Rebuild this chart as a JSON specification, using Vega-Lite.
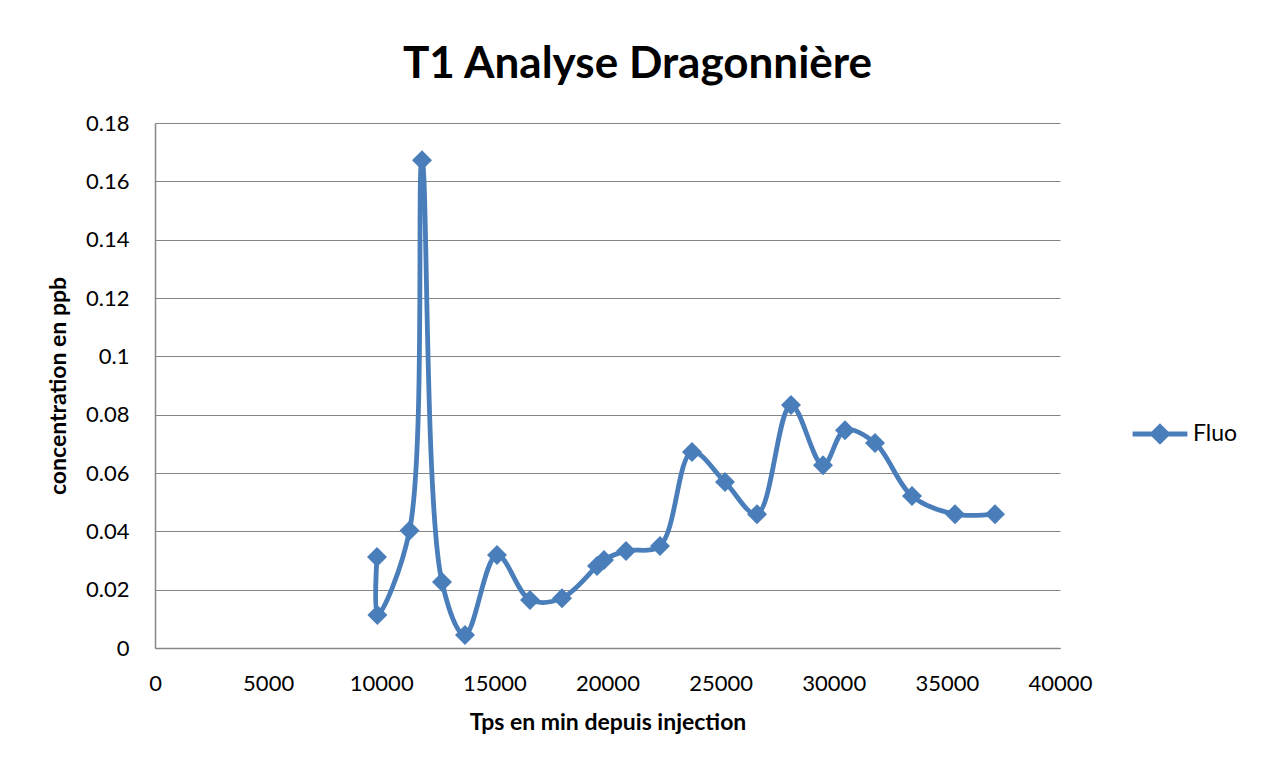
{
  "$schema": "https://vega.github.io/schema/vega-lite/v6.json",
  "width": 905,
  "height": 525,
  "autosize": {"type": "none"},
  "padding": {"left": 155, "top": 123, "right": 217, "bottom": 114},
  "background": "white",
  "title": {
    "text": "T1 Analyse Dragonnière",
    "font": "Lato",
    "fontSize": 44,
    "fontWeight": "bold",
    "color": "#000000",
    "anchor": "middle",
    "dx": 30,
    "offset": 25
  },
  "data": {
    "values": [
      {"order": 1, "t": 9812, "c": 0.0312, "serie": "Fluo"},
      {"order": 2, "t": 9830, "c": 0.0113, "serie": "Fluo"},
      {"order": 3, "t": 11250, "c": 0.0403, "serie": "Fluo"},
      {"order": 4, "t": 11801, "c": 0.1672, "serie": "Fluo"},
      {"order": 5, "t": 12685, "c": 0.0226, "serie": "Fluo"},
      {"order": 6, "t": 13702, "c": 0.0045, "serie": "Fluo"},
      {"order": 7, "t": 15116, "c": 0.0319, "serie": "Fluo"},
      {"order": 8, "t": 16575, "c": 0.0165, "serie": "Fluo"},
      {"order": 9, "t": 17989, "c": 0.0171, "serie": "Fluo"},
      {"order": 10, "t": 19536, "c": 0.0281, "serie": "Fluo"},
      {"order": 11, "t": 19845, "c": 0.0302, "serie": "Fluo"},
      {"order": 12, "t": 20818, "c": 0.0333, "serie": "Fluo"},
      {"order": 13, "t": 22320, "c": 0.035, "serie": "Fluo"},
      {"order": 14, "t": 23735, "c": 0.0672, "serie": "Fluo"},
      {"order": 15, "t": 25193, "c": 0.0569, "serie": "Fluo"},
      {"order": 16, "t": 26608, "c": 0.0459, "serie": "Fluo"},
      {"order": 17, "t": 28110, "c": 0.0833, "serie": "Fluo"},
      {"order": 18, "t": 29525, "c": 0.0627, "serie": "Fluo"},
      {"order": 19, "t": 30497, "c": 0.0747, "serie": "Fluo"},
      {"order": 20, "t": 31823, "c": 0.0703, "serie": "Fluo"},
      {"order": 21, "t": 33459, "c": 0.0521, "serie": "Fluo"},
      {"order": 22, "t": 35359, "c": 0.0459, "serie": "Fluo"},
      {"order": 23, "t": 37127, "c": 0.0459, "serie": "Fluo"}
    ]
  },
  "mark": {
    "type": "line",
    "interpolate": "catmull-rom",
    "strokeWidth": 4.8,
    "point": {"shape": "diamond", "size": 400, "filled": true, "opacity": 1}
  },
  "encoding": {
    "x": {
      "field": "t",
      "type": "quantitative",
      "scale": {"domain": [0, 40000], "nice": false},
      "axis": {
        "title": "Tps en min depuis injection",
        "values": [0, 5000, 10000, 15000, 20000, 25000, 30000, 35000, 40000],
        "format": "d",
        "grid": false,
        "ticks": false,
        "labelFlush": false,
        "labelOverlap": false,
        "domainColor": "#868686",
        "domainWidth": 1.5,
        "labelPadding": 25,
        "titlePadding": 17
      }
    },
    "y": {
      "field": "c",
      "type": "quantitative",
      "scale": {"domain": [0, 0.18], "nice": false},
      "axis": {
        "title": "concentration en ppb",
        "values": [0, 0.02, 0.04, 0.06, 0.08, 0.1, 0.12, 0.14, 0.16, 0.18],
        "format": "~g",
        "grid": true,
        "gridColor": "#868686",
        "gridWidth": 1,
        "ticks": false,
        "labelFlush": false,
        "labelOverlap": false,
        "domainColor": "#868686",
        "domainWidth": 1.5,
        "labelPadding": 26,
        "titlePadding": 15
      }
    },
    "order": {"field": "order", "type": "quantitative"},
    "color": {
      "field": "serie",
      "type": "nominal",
      "scale": {"range": ["#4a7ebb"]},
      "legend": {
        "title": null,
        "orient": "none",
        "legendX": 975,
        "legendY": 281,
        "symbolType": "M-1,0H1M0,-0.27L0.27,0L0,0.27L-0.27,0Z",
        "symbolSize": 3000,
        "symbolStrokeWidth": 4.8,
        "symbolFillColor": "#4a7ebb",
        "symbolStrokeColor": "#4a7ebb",
        "symbolOpacity": 1,
        "labelFont": "Lato",
        "labelFontSize": 23,
        "labelColor": "#000000",
        "labelOffset": 3
      }
    }
  },
  "config": {
    "view": {"stroke": null},
    "axis": {
      "labelFont": "Lato",
      "labelFontSize": 22,
      "labelColor": "#000000",
      "titleFont": "Lato",
      "titleFontSize": 23,
      "titleFontWeight": "bold",
      "titleColor": "#000000"
    }
  }
}
